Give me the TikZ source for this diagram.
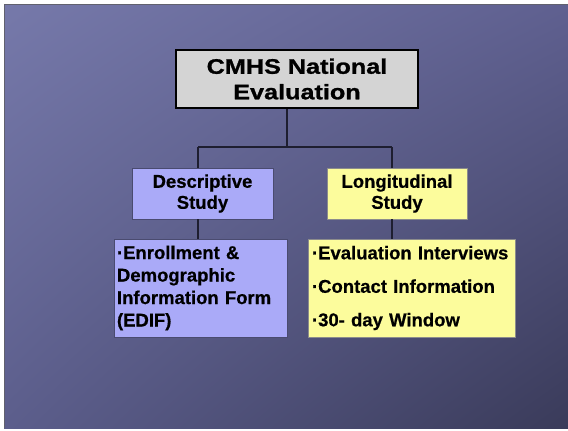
\documentclass[tikz,border=0pt]{standalone}
\usepackage{fontspec}
\setmainfont{Liberation Sans}
\newfontfamily\titlefont[FakeStretch=1.2, FakeBold=1.2]{Liberation Sans Bold}
\newfontfamily\bodyfont[FakeBold=0.6]{Liberation Sans Bold}
\usetikzlibrary{positioning,calc,shadings}
\definecolor{bgtl}{RGB}{118, 121, 170}
\definecolor{bgtr}{RGB}{95, 96, 144}
\definecolor{bgbl}{RGB}{92, 94, 140}
\definecolor{bgbr}{RGB}{58, 59, 90}
\definecolor{lgray}{RGB}{212, 212, 212}
\definecolor{lviolet}{RGB}{170, 170, 248}
\definecolor{lyellow}{RGB}{252, 252, 156}
\definecolor{dline}{RGB}{30, 30, 48}
\tikzstyle{block} = [rectangle, draw, inner sep=0pt, font=\bodyfont]
\tikzstyle{tree} = [draw, line width=1.2pt, color=dline]

\begin{document}
\begin{tikzpicture}[x=1pt, y=-1pt]

  \useasboundingbox (0,0) rectangle (568,431);
  \fill[white] (0,0) rectangle (568,431);
  \shade[upper left=bgtl, upper right=bgtr, lower left=bgbl, lower right=bgbr]
    (4,4) rectangle (568,428);
  \draw[dline!70, line width=0.8pt] (4,428) -- (4,4) -- (568,4);

  %%%%%%%%%%%%%%%%%%%%%%%%%%%%%%%%%%%%%%%%%%%%%%%%%%%%%%%%%%%%%%
  %                    TOP BOX                                 %
  %%%%%%%%%%%%%%%%%%%%%%%%%%%%%%%%%%%%%%%%%%%%%%%%%%%%%%%%%%%%%%

  \node [block, line width=2pt,
    minimum width=242pt,
    minimum height=58pt,
    text width=236pt, align=center,
    fill=lgray,
    font=\titlefont\fontsize{21}{25.5}\selectfont] at (297,79) (cmhs) {
    CMHS National\\Evaluation
  };

  %%%%%%%%%%%%%%%%%%%%%%%%%%%%%%%%%%%%%%%%%%%%%%%%%%%%%%%%%%%%%%
  %                    STUDIES                                 %
  %%%%%%%%%%%%%%%%%%%%%%%%%%%%%%%%%%%%%%%%%%%%%%%%%%%%%%%%%%%%%%

  \node [block, line width=0.8pt,
    minimum width=141pt,
    minimum height=51pt,
    text width=135pt, align=center,
    fill=lviolet, draw=bgbl!80!black,
    font=\bodyfont\fontsize{18.5}{21}\selectfont] at (202.5,193.5) (descriptive) {
    Descriptive\\Study
  };
  \node [block, line width=0.8pt,
    minimum width=140pt,
    minimum height=51pt,
    text width=134pt, align=center,
    fill=lyellow, draw=black!45,
    font=\bodyfont\fontsize{18.5}{21}\selectfont] at (397,193.5) (longitudinal) {
    Longitudinal\\Study
  };

  %%%%%%%%%%%%%%%%%%%%%%%%%%%%%%%%%%%%%%%%%%%%%%%%%%%%%%%%%%%%%%
  %                    DETAILS                                 %
  %%%%%%%%%%%%%%%%%%%%%%%%%%%%%%%%%%%%%%%%%%%%%%%%%%%%%%%%%%%%%%

  \node [block, line width=0.8pt,
    minimum width=173pt,
    minimum height=98pt,
    text width=167pt, align=left,
    fill=lviolet, draw=bgbl!80!black,
    font=\bodyfont\fontsize{18.5}{22.5}\selectfont] at (200.5,288) (edif) {
    ·Enrollment \&\\Demographic\\Information Form\\(EDIF)
  };
  \node [block, line width=0.8pt,
    minimum width=207pt,
    minimum height=98pt,
    text width=199pt, align=left,
    fill=lyellow, draw=black!45,
    font=\bodyfont\fontsize{18.5}{22.5}\selectfont] at (411.5,288) (tasks) {
    ·Evaluation Interviews\\[11pt]·Contact Information\\[11pt]·30- day Window
  };

  \coordinate (split) at (287,147);
  \coordinate (ldrop) at (198,147);
  \coordinate (rdrop) at (392,147);

  \draw[tree] (cmhs.south -| split) -- (split);
  \draw[tree] (ldrop) -- (rdrop);
  \draw[tree] (ldrop) -- (ldrop |- descriptive.north);
  \draw[tree] (rdrop) -- (rdrop |- longitudinal.north);
  \draw[tree] (ldrop |- descriptive.south) -- (ldrop |- edif.north);
  \draw[tree] (rdrop |- longitudinal.south) -- (rdrop |- tasks.north);

\end{tikzpicture}
\end{document}
